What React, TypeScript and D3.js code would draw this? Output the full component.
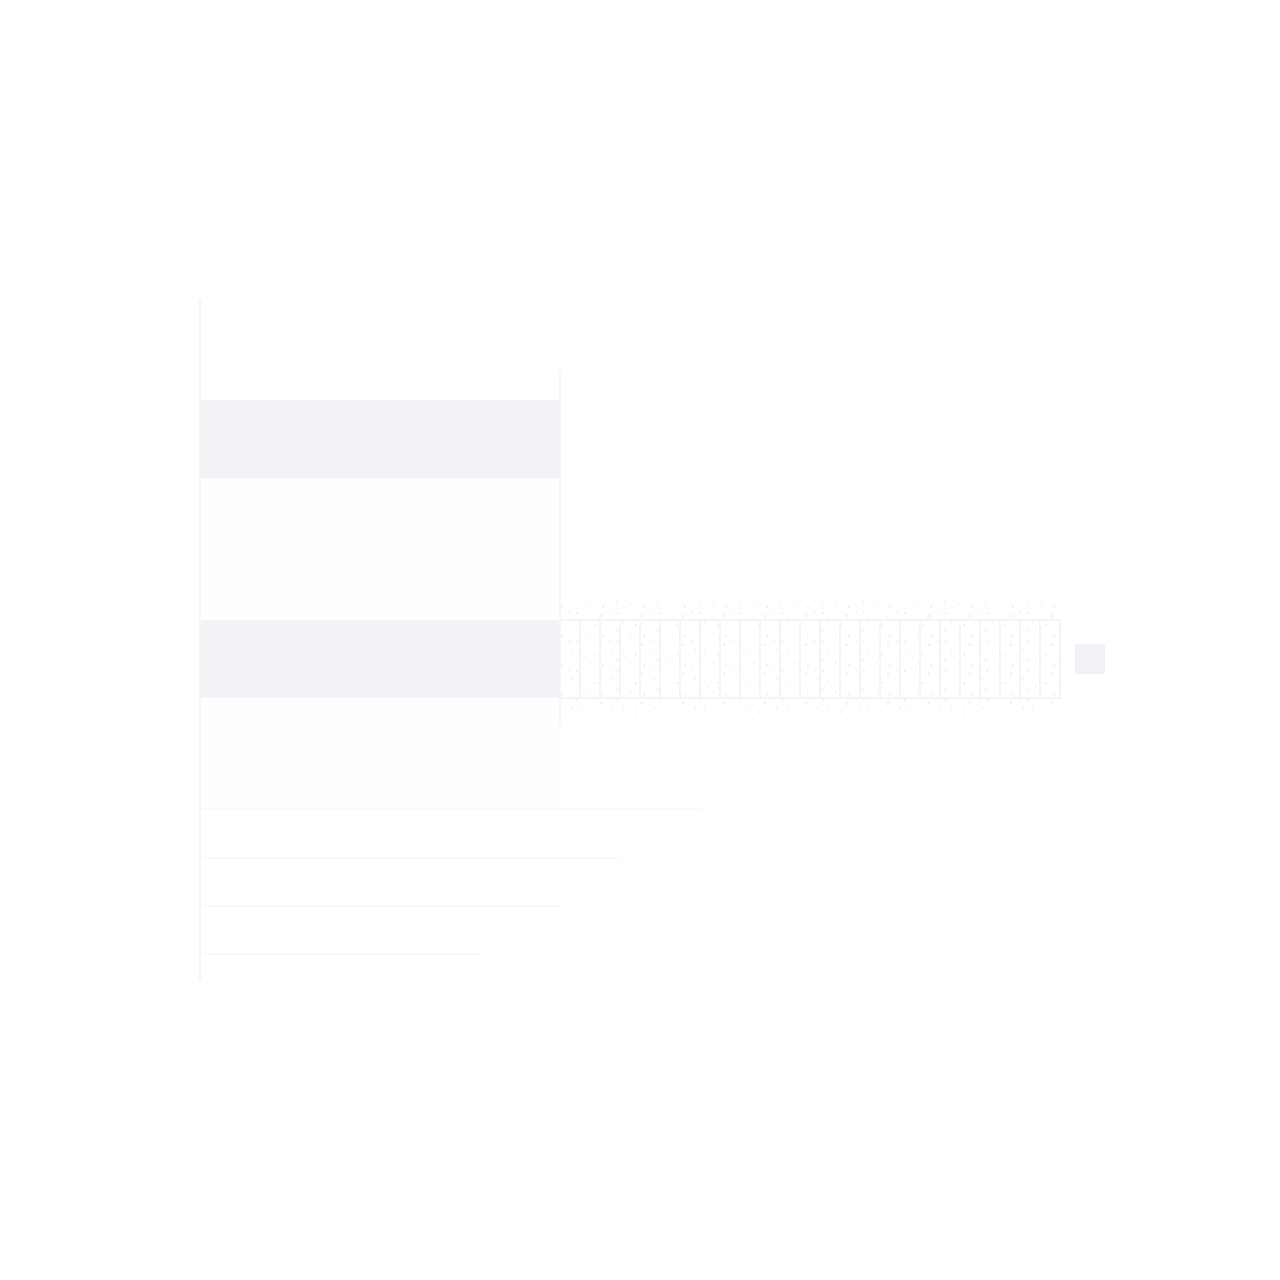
import { useEffect, useRef } from "react";
import * as d3 from "d3";

// bars: [start, end] along x, [top, bottom] along y (chart units)
const barSpans = [
  { x0: 0, x1: 18, y0: 5, y1: 8.9 },
  { x0: 0, x1: 18, y0: 16, y1: 19.9 },
];

// lattice extension of the second bar
const latticeStart = 18;
const latticeEnd = 43;
const latticeCells = 25;
const latticeRow = { y0: 16, y1: 19.9 };

// faint guide lines under the bars
const guideEnds = [25, 21, 18, 14];
const guideRows = [25.45, 27.9, 30.3, 32.7];

// reference rule and marker
const refX = 18;
const refSpan = [3.5, 21.3];
const markerX = [43.75, 45.25];
const markerY = [17.2, 18.7];

const W = 1280;
const H = 1280;

export default function App() {
  const ref = useRef<SVGSVGElement>(null);

  useEffect(() => {
    if (!ref.current) return;
    const svg = d3.select(ref.current);
    svg.selectAll("*").remove();

    const x = d3.scaleLinear().domain([0, 50]).range([200, 1200]);
    const y = d3.scaleLinear().domain([0, 34]).range([300, 980]);

    // speckle texture (fixed tile)
    const defs = svg.append("defs");
    const pat = defs
      .append("pattern")
      .attr("id", "speck")
      .attr("patternUnits", "userSpaceOnUse")
      .attr("width", 41)
      .attr("height", 29);
    const dots = [
      [3, 4, 1.2], [14, 2, 0.8], [27, 7, 1.4], [36, 3, 0.9], [8, 13, 1.0],
      [21, 16, 1.3], [33, 19, 0.8], [2, 22, 1.1], [16, 25, 0.9], [29, 27, 1.2],
      [39, 12, 1.0], [11, 20, 0.7],
    ];
    pat
      .selectAll("circle")
      .data(dots)
      .join("circle")
      .attr("cx", (d) => d[0])
      .attr("cy", (d) => d[1])
      .attr("r", (d) => d[2])
      .attr("fill", "#f0f1f6");

    // faint panels between bars
    svg
      .append("rect")
      .attr("x", x(0))
      .attr("y", y(8.9))
      .attr("width", x(18) - x(0))
      .attr("height", y(16) - y(8.9))
      .attr("fill", "#fefefe");
    svg
      .append("rect")
      .attr("x", x(0))
      .attr("y", y(19.9))
      .attr("width", x(18) - x(0))
      .attr("height", y(guideRows[0]) - y(19.9))
      .attr("fill", "#fefefe");

    // guide lines
    svg
      .selectAll("line.guide")
      .data(guideEnds)
      .join("line")
      .attr("class", "guide")
      .attr("x1", x(0))
      .attr("x2", (d) => x(d))
      .attr("y1", (_, i) => y(guideRows[i]))
      .attr("y2", (_, i) => y(guideRows[i]))
      .attr("stroke", "#f9f9fa")
      .attr("stroke-width", 1.5);

    // bars
    svg
      .selectAll("rect.bar")
      .data(barSpans)
      .join("rect")
      .attr("class", "bar")
      .attr("x", (d) => x(d.x0))
      .attr("y", (d) => y(d.y0))
      .attr("width", (d) => x(d.x1) - x(d.x0))
      .attr("height", (d) => y(d.y1) - y(d.y0))
      .attr("fill", "#f2f3f7");

    // speckled band around lattice
    svg
      .append("rect")
      .attr("x", x(latticeStart))
      .attr("y", y(latticeRow.y0) - 20)
      .attr("width", x(latticeEnd) - x(latticeStart))
      .attr("height", y(latticeRow.y1) - y(latticeRow.y0) + 40)
      .attr("fill", "url(#speck)");

    // lattice
    const cellW = (latticeEnd - latticeStart) / latticeCells;
    const cuts = d3.range(latticeCells + 1).map((i) => latticeStart + i * cellW);
    svg
      .append("rect")
      .attr("x", x(latticeStart))
      .attr("y", y(latticeRow.y0))
      .attr("width", x(latticeEnd) - x(latticeStart))
      .attr("height", y(latticeRow.y1) - y(latticeRow.y0))
      .attr("fill", "none")
      .attr("stroke", "#f4f5f9")
      .attr("stroke-width", 2);
    svg
      .selectAll("line.cell")
      .data(cuts)
      .join("line")
      .attr("class", "cell")
      .attr("x1", (d) => x(d))
      .attr("x2", (d) => x(d))
      .attr("y1", y(latticeRow.y0))
      .attr("y2", y(latticeRow.y1))
      .attr("stroke", "#f4f5f9")
      .attr("stroke-width", 2);

    // reference rule
    svg
      .append("line")
      .attr("x1", x(refX))
      .attr("x2", x(refX))
      .attr("y1", y(refSpan[0]))
      .attr("y2", y(refSpan[1]))
      .attr("stroke", "#f6f6f8")
      .attr("stroke-width", 2);

    // marker square
    svg
      .append("rect")
      .attr("x", x(markerX[0]))
      .attr("y", y(markerY[0]))
      .attr("width", x(markerX[1]) - x(markerX[0]))
      .attr("height", y(markerY[1]) - y(markerY[0]))
      .attr("fill", "#f1f2f6");

    // axis line
    svg
      .append("line")
      .attr("x1", x(0))
      .attr("x2", x(0))
      .attr("y1", y(0))
      .attr("y2", y(34))
      .attr("stroke", "#f5f5f7")
      .attr("stroke-width", 2);
  }, []);

  return (
    <svg
      ref={ref}
      width={W}
      height={H}
      style={{ position: "absolute", left: 0, top: 0, background: "#fff" }}
    />
  );
}
